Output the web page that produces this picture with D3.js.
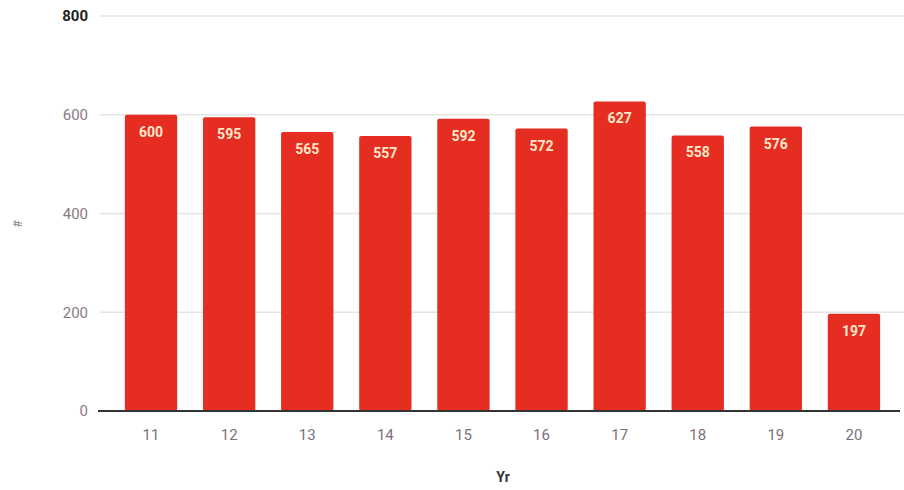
<!DOCTYPE html>
<html>
<head>
<meta charset="utf-8">
<script src="https://cdn.jsdelivr.net/npm/d3@7"></script>
<style>
  body { margin: 0; background: #fff; }
  svg { font-family: Roboto, "Noto Sans", sans-serif; }
</style>
</head>
<body>
<script>
(function() {

    var years = ["11", "12", "13", "14", "15", "16", "17", "18", "19", "20"];
    var counts = [600, 595, 565, 557, 592, 572, 627, 558, 576, 197];
    var yTicks = [0, 200, 400, 600, 800];

    var width = 904,
        height = 490,
        left = 112,
        right = 893,
        top = 16,
        bottom = 411;

    var svg = d3.select("body")
        .append("svg")
        .attr("width", width)
        .attr("height", height);

    var x = d3.scaleBand()
        .domain(years)
        .range([left, right])
        .paddingInner(0.33)
        .paddingOuter(0.165);

    var y = d3.scaleLinear()
        .domain([0, 800])
        .range([bottom, top]);

    // gridlines
    svg.append("g")
        .selectAll("line")
        .data(yTicks.slice(1))
        .enter()
        .append("line")
        .attr("x1", 100)
        .attr("x2", 904)
        .attr("y1", function(d){ return y(d); })
        .attr("y2", function(d){ return y(d); })
        .attr("stroke", "#e4e4e4")
        .attr("stroke-width", 1.5);

    // y tick labels
    svg.append("g")
        .selectAll("text")
        .data(yTicks)
        .enter()
        .append("text")
        .attr("x", 88)
        .attr("y", function(d){ return y(d); })
        .attr("dy", "0.35em")
        .attr("text-anchor", "end")
        .attr("font-size", 15)
        .attr("font-weight", function(d){ return d == 800 ? "bold" : "normal"; })
        .attr("fill", function(d){ return d == 800 ? "#222" : "#8a7c84"; })
        .text(function(d){ return d; });

    // bars
    svg.append("g")
        .selectAll("rect")
        .data(counts)
        .enter()
        .append("rect")
        .attr("x", function(d, i){ return x(years[i]); })
        .attr("y", function(d){ return y(d); })
        .attr("width", x.bandwidth())
        .attr("height", function(d){ return bottom - y(d); })
        .attr("rx", 2)
        .attr("fill", "#e62d22");

    // bar labels
    svg.append("g")
        .selectAll("text")
        .data(counts)
        .enter()
        .append("text")
        .attr("x", function(d, i){ return x(years[i]) + x.bandwidth() / 2; })
        .attr("y", function(d){ return y(d) + 22; })
        .attr("text-anchor", "middle")
        .attr("font-size", 14)
        .attr("font-weight", "bold")
        .attr("fill", "#fbe8c8")
        .text(function(d){ return d; });

    // baseline
    svg.append("line")
        .attr("x1", 98)
        .attr("x2", 900)
        .attr("y1", bottom)
        .attr("y2", bottom)
        .attr("stroke", "#333")
        .attr("stroke-width", 2);

    // x tick labels
    svg.append("g")
        .selectAll("text")
        .data(years)
        .enter()
        .append("text")
        .attr("x", function(d){ return x(d) + x.bandwidth() / 2; })
        .attr("y", 440)
        .attr("text-anchor", "middle")
        .attr("font-size", 15)
        .attr("fill", "#7d7078")
        .text(function(d){ return d; });

    // axis titles
    svg.append("text")
        .attr("x", 503)
        .attr("y", 482)
        .attr("text-anchor", "middle")
        .attr("font-size", 14)
        .attr("font-weight", "bold")
        .attr("fill", "#333")
        .text("Yr");

    svg.append("text")
        .attr("transform", "translate(22,224) rotate(-90)")
        .attr("text-anchor", "middle")
        .attr("font-size", 12)
        .attr("fill", "#888")
        .text("#");

})();
</script>
</body>
</html>
